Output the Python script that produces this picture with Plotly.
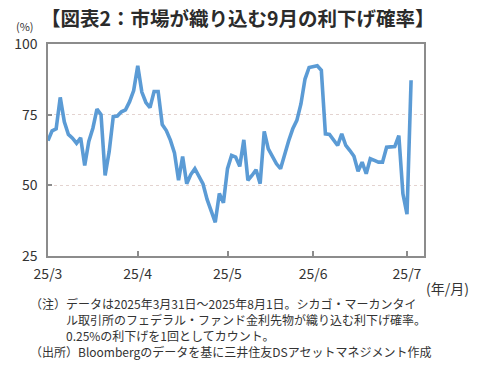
import pandas as pd
import plotly.graph_objects as go

# Business days from 2025-03-31 to 2025-08-01
dates = pd.bdate_range("2025-03-31", "2025-08-01").strftime("%Y-%m-%d").tolist()

# September cut probability (%)
prob = [
    65.8, 69.3, 70.0, 81.1, 72.5, 68.0, 66.7, 64.9, 66.8, 57.0,
    65.5, 70.2, 77.0, 75.0, 53.5, 62.0, 74.3, 74.5, 76.0, 76.7,
    79.6, 83.5, 92.3, 83.0, 79.3, 77.5, 83.2, 83.2, 71.5, 69.4,
    66.0, 61.5, 51.8, 60.2, 50.6, 53.8, 55.9, 53.0, 50.5, 45.0,
    41.0, 36.9, 47.1, 43.8, 55.9, 60.6, 60.0, 56.7, 66.1, 51.8,
    53.5, 55.5, 50.6, 69.1, 62.9, 60.0, 57.6, 55.9, 61.2, 65.8,
    70.0, 73.0, 78.8, 87.6, 91.7, 91.9, 92.3, 90.7, 68.2, 68.0,
    66.1, 64.1, 68.2, 64.1, 62.3, 60.3, 55.0, 58.2, 54.1, 59.4,
    58.8, 58.2, 58.2, 63.5, 63.6, 63.7, 67.6, 47.0, 39.8, 87.2,
]

tick_dates = ["2025-03-31", "2025-04-30", "2025-05-30", "2025-06-30", "2025-07-31"]
tick_text = ["25/3", "25/4", "25/5", "25/6", "25/7"]
y_ticks = [25, 50, 75, 100]

title = "【図表2：市場が織り込む9月の利下げ確率】"
notes = [
    "（注）データは2025年3月31日～2025年8月1日。シカゴ・マーカンタイ",
    "　　　ル取引所のフェデラル・ファンド金利先物が織り込む利下げ確率。",
    "　　　0.25%の利下げを1回としてカウント。",
    "（出所）Bloombergのデータを基に三井住友DSアセットマネジメント作成",
]

FONT = "Noto Sans CJK JP"
TXT = "#333333"
AX = "#8c8c8c"

# plot area in pixels
L, R, T, B = 48, 424, 44, 256
W, H = R - L, B - T


def px(x):
    return (x - L) / W


def py(y):
    return (B - y) / H


fig = go.Figure()
fig.add_trace(go.Scatter(
    x=dates, y=prob, mode="lines",
    line=dict(color="#5b9bd5", width=3.6),
    hoverinfo="skip",
))

fig.update_layout(
    width=480, height=369,
    margin=dict(l=L, r=480 - R, t=T, b=369 - B, autoexpand=False),
    paper_bgcolor="white", plot_bgcolor="white",
    showlegend=False,
    font=dict(family=FONT, color=TXT, size=14),
    xaxis=dict(
        type="date",
        range=["2025-03-31", "2025-08-06 04:00"],
        rangebreaks=[dict(bounds=["sat", "mon"])],
        tickvals=tick_dates, ticktext=tick_text,
        ticks="inside", ticklen=5, tickcolor=AX, tickwidth=1.5,
        showline=True, linecolor=AX, linewidth=1.5, mirror=True,
        showgrid=False, zeroline=False,
        tickfont=dict(family=FONT, size=14, color=TXT),
        ticklabelstandoff=4,
    ),
    yaxis=dict(
        range=[25, 100],
        tickvals=y_ticks,
        ticks="inside", ticklen=4, tickcolor=AX, tickwidth=1.5,
        showline=True, linecolor=AX, linewidth=1.5, mirror=True,
        showgrid=True, gridcolor="#e3d3d0", gridwidth=1, griddash="dot",
        zeroline=False,
        tickfont=dict(family=FONT, size=14, color=TXT),
        ticklabelstandoff=6,
    ),
)

fig.add_annotation(text="<b>" + title + "</b>", xref="paper", yref="paper",
                   x=px(238), y=py(17),
                   showarrow=False, xanchor="center", yanchor="middle",
                   font=dict(family=FONT, size=19.5, color="#2b2b2b"))
fig.add_annotation(text="(%)", xref="paper", yref="paper",
                   x=px(25), y=py(26),
                   showarrow=False, xanchor="center", yanchor="middle",
                   borderpad=0,
                   font=dict(family=FONT, size=11, color=TXT))
fig.add_annotation(text="(年/月)", xref="paper", yref="paper",
                   x=px(447), y=py(288),
                   showarrow=False, xanchor="center", yanchor="middle",
                   font=dict(family=FONT, size=14, color=TXT))
for i, line in enumerate(notes):
    fig.add_annotation(text=line, xref="paper", yref="paper",
                       x=px(28), y=py(303 + 16 * i),
                       showarrow=False, xanchor="left", yanchor="middle",
                       font=dict(family=FONT, size=12, color=TXT))

fig.write_html("out.html", config={"displayModeBar": False},
               post_script="document.body.style.margin='0';")
